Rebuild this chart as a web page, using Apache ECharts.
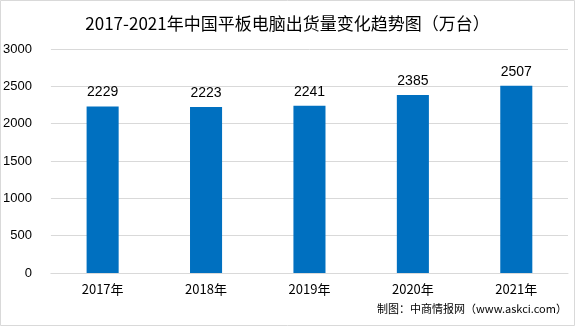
<!DOCTYPE html>
<html><head><meta charset="utf-8">
<script src="https://cdn.jsdelivr.net/npm/echarts@6/dist/echarts.min.js"></script>
<style>html,body{margin:0;padding:0;background:#fff}#c{width:575px;height:326px}</style>
</head><body><div id="c"></div>
<script>
const categories = ['2017年','2018年','2019年','2020年','2021年'];
const values = [2229, 2223, 2241, 2385, 2507];
const yTicks = [0, 500, 1000, 1500, 2000, 2500, 3000];
const titleText = '2017-2021年中国平板电脑出货量变化趋势图（万台）';
const sourceText = '制图：中商情报网（www.askci.com）';

const chart = echarts.init(document.getElementById('c'), null, {renderer:'canvas'});
chart.setOption({
  animation: false,
  backgroundColor: '#fff',
  title: {
    text: titleText, left: 'center', top: 10,
    textStyle: {fontFamily: 'Noto Sans CJK SC', fontSize: 17, fontWeight: 'normal', color: '#000'}
  },
  grid: {left: 50, right: 7, top: 49, bottom: 53, containLabel: false},
  xAxis: {
    type: 'category', data: categories,
    axisLine: {lineStyle: {color: '#d9d9d9'}},
    axisTick: {show: false},
    axisLabel: {color: '#000', fontSize: 13, fontFamily: 'Noto Sans CJK SC', margin: 10}
  },
  yAxis: {
    type: 'value', min: yTicks[0], max: yTicks[yTicks.length-1], interval: 500,
    axisLine: {show: false}, axisTick: {show: false},
    splitLine: {lineStyle: {color: '#d9d9d9'}},
    axisLabel: {color: '#000', fontSize: 13, fontFamily: 'Liberation Sans', margin: 19, formatter: v => String(v)}
  },
  series: [{
    type: 'bar', data: values, barWidth: '31%',
    itemStyle: {color: '#0070C0'},
    label: {show: true, position: 'top', distance: 7, color: '#000', fontSize: 14, fontFamily: 'Liberation Sans'}
  }],
  graphic: [
    {type: 'rect', shape: {x: 0.5, y: 0.5, width: 574, height: 325}, style: {fill: 'none', stroke: '#d9d9d9', lineWidth: 1}},
    {type: 'text', left: 377, top: 303, style: {text: sourceText, fontSize: 11, fontFamily: 'Noto Sans CJK SC', fill: '#000'}}
  ]
});
</script></body></html>
